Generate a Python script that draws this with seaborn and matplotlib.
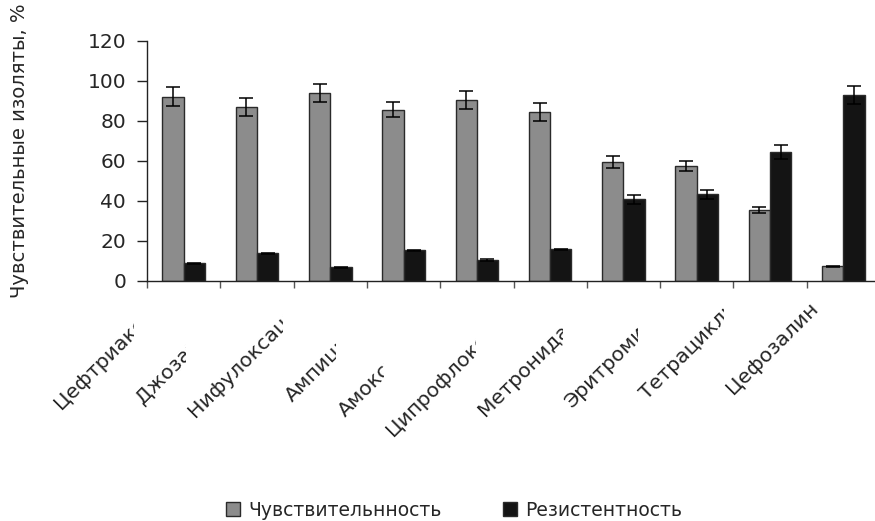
import numpy as np
import pandas as pd
import seaborn as sns
import matplotlib
matplotlib.use("Agg")
import matplotlib.pyplot as plt
import matplotlib.transforms as mtransforms
from matplotlib.transforms import Bbox

# Antibiotic names (labels are cut off where the next one begins)
drugs = ["Цефтриаксон", "Джозамицин", "Нифулоксацин", "Ампициллин", "Амоксициллин",
         "Ципрофлоксацин", "Метронидазол", "Эритромицин", "Тетрациклин", "Цефозалин"]
series_names = ["Чувствительнность", "Резистентность"]

sensitivity = [92.0, 87.0, 94.0, 85.5, 90.5, 84.5, 59.5, 57.5, 35.5, 7.3]
sensitivity_err = [4.7, 4.5, 4.5, 3.8, 4.5, 4.5, 3.0, 2.5, 1.5, 0.3]
resistance = [8.8, 13.8, 6.8, 15.4, 10.5, 15.9, 40.7, 43.3, 64.4, 92.6]
resistance_err = [0.3, 0.3, 0.2, 0.3, 0.3, 0.3, 2.1, 2.2, 3.5, 4.5]

y_ticks = [0, 20, 40, 60, 80, 100, 120]
y_label = "Чувствительные изоляты, %"

# Offsets (pixels) of each rotated label's start from its category centre / the axis line
label_dx = [-122, -114, -135, -112, -132, -157, -138, -125, -123, -110]
label_dy = [-129, -124, -137, -121, -136, -156, -136, -127, -119, -114]

sns.set_style("white")
plt.rcParams["font.family"] = ["DejaVu Sans"]
FS = 13.5

W, H = 875, 521
fig = plt.figure(figsize=(W / 100, H / 100), dpi=100)
ax = fig.add_axes([147 / W, (H - 281) / H, 733 / W, 240.5 / H])

df = pd.DataFrame({
    "drug": drugs * 2,
    "series": [series_names[0]] * len(drugs) + [series_names[1]] * len(drugs),
    "value": sensitivity + resistance,
})
palette = {series_names[0]: "#8c8c8c", series_names[1]: "#141414"}

sns.barplot(data=df, x="drug", y="value", hue="series", order=drugs,
            hue_order=series_names, palette=palette, width=0.58, gap=0,
            errorbar=None, edgecolor="#2a2a2a", linewidth=1.0, saturation=1,
            ax=ax, legend=False)

# Error bars placed on top of each drawn bar
errs = sensitivity_err + resistance_err
bars = ax.patches[:len(errs)]
for bar, e in zip(bars, errs):
    xc = bar.get_x() + bar.get_width() / 2
    ax.errorbar(xc, bar.get_height(), yerr=e, fmt="none", ecolor="black",
                elinewidth=1.1, capsize=5, capthick=1.1, zorder=5)

ax.set_ylim(0, 120)
ax.set_xlim(-0.5, len(drugs) - 0.5)
ax.set_yticks(y_ticks)
ax.set_yticklabels([str(t) for t in y_ticks], fontsize=14.5)
ax.set_xticks(np.arange(len(drugs) + 1) - 0.5)
ax.set_xticklabels([])
ax.tick_params(axis="y", direction="out", length=7, width=1, color="#222222", pad=8, left=True)
ax.tick_params(axis="x", direction="out", length=5, width=1, color="#555555", bottom=True)
ax.set_xlabel("")
ax.set_ylabel("")
for side in ["top", "right"]:
    ax.spines[side].set_visible(False)
for side in ["left", "bottom"]:
    ax.spines[side].set_color("#222222")
    ax.spines[side].set_linewidth(1.0)

fig.text(20 / W, (H - 151) / H, y_label, rotation=90, ha="center", va="center",
         fontsize=14.1)

# Rotated category labels, each clipped just before the next one starts
fig.canvas.draw()
starts = []
for i in range(len(drugs)):
    cx, cy = ax.transData.transform((i, 0))
    starts.append(cx + label_dx[i])
for i, name in enumerate(drugs):
    tr = mtransforms.offset_copy(ax.transData, fig=fig, x=label_dx[i], y=label_dy[i], units="dots")
    t = ax.text(i, 0, name, transform=tr, rotation=45, rotation_mode="anchor",
                ha="left", va="baseline", fontsize=14.7, clip_on=True)
    right = starts[i + 1] - 9 if i + 1 < len(drugs) else W
    t.set_clip_box(Bbox([[0, 0], [right, H]]))
    t.set_clip_path(None)

handles = [plt.Rectangle((0, 0), 1, 1, facecolor=palette[s], edgecolor="#2a2a2a", linewidth=1.0)
           for s in series_names]
fig.legend(handles, series_names, loc="center", bbox_to_anchor=(454 / W, (H - 510) / H),
           ncol=2, frameon=False, fontsize=FS, handlelength=0.75, handleheight=0.75,
           handletextpad=0.4, columnspacing=3.3)

fig.savefig("out.png", dpi=100)
